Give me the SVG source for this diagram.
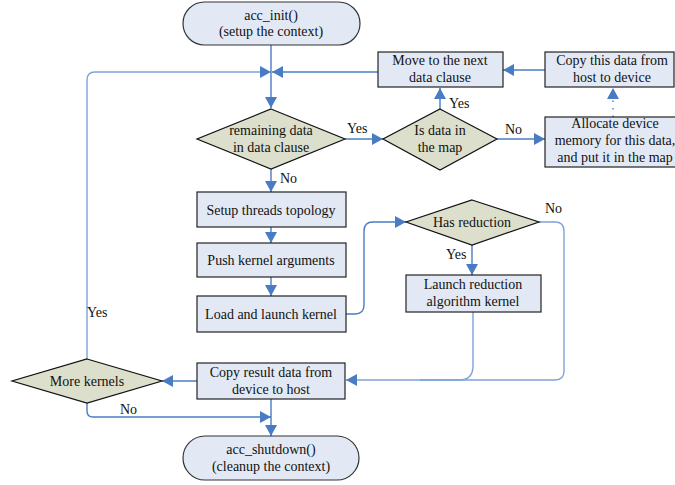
<svg xmlns="http://www.w3.org/2000/svg" width="675" height="485" viewBox="0 0 675 485">
<style>
text{font-size:14px;fill:#111;text-anchor:middle}
.box{fill:#e2e9f5;stroke:#222;stroke-width:1.2}
.term{fill:#e2e9f5;stroke:#333;stroke-width:1.2}
.dec{fill:#dcdfcb;stroke:#111;stroke-width:1.2}
.c{fill:none;stroke:#4a7cc3;stroke-width:1.4}
.cl{fill:none;stroke:#7ea3d8;stroke-width:1.4}
.lbl{text-anchor:start}
</style>
<defs>
<marker id="ah" markerUnits="userSpaceOnUse" markerWidth="12" markerHeight="12" refX="11" refY="6" orient="auto">
<path d="M0,0 L11,6 L0,12 z" fill="#4a7cc3"/>
</marker>
</defs>
<rect width="675" height="485" fill="#fff"/>
<g font-family="'Liberation Serif', 'Times New Roman', 'DejaVu Serif', serif">
<g id="connectors">
<path class="c" d="M271,45 V108" marker-end="url(#ah)"/>
<path class="cl" d="M87,359 V80 Q87,72 95,72 H271" marker-end="url(#ah)"/>
<path class="c" d="M378,72 H272" marker-end="url(#ah)"/>
<path class="c" d="M345,139 H383" marker-end="url(#ah)"/>
<path class="c" d="M440,109 V88" marker-end="url(#ah)"/>
<path class="c" d="M497,139 H545" marker-end="url(#ah)"/>
<path class="c" d="M613,117 V88" stroke-dasharray="1.5,6" marker-end="url(#ah)"/>
<path class="c" d="M545,70 H503" marker-end="url(#ah)"/>
<path class="c" d="M271,169 V192" marker-end="url(#ah)"/>
<path class="c" d="M271,227 V243" marker-end="url(#ah)"/>
<path class="c" d="M271,277 V296" marker-end="url(#ah)"/>
<path class="c" d="M346,314 H355 Q364,314 364,305 V231 Q364,222 373,222 H406" marker-end="url(#ah)"/>
<path class="c" d="M472,245 V275" marker-end="url(#ah)"/>
<path class="cl" d="M539,222 H555 Q564,222 564,231 V371 Q564,380 555,380 H346" marker-end="url(#ah)"/>
<path class="cl" d="M473,312 V366 Q473,380 459,380 H420"/>
<path class="c" d="M197,381 H162" marker-end="url(#ah)"/>
<path class="c" d="M271,399 V436" marker-end="url(#ah)"/>
<path class="c" d="M87,403 V411 Q87,417 93,417 H271" marker-end="url(#ah)"/>
<text class="lbl" x="347" y="133">Yes</text>
<text class="lbl" x="449" y="108">Yes</text>
<text class="lbl" x="505" y="134">No</text>
<text class="lbl" x="280" y="183">No</text>
<text class="lbl" x="545" y="213">No</text>
<text class="lbl" x="446" y="259">Yes</text>
<text class="lbl" x="87" y="317">Yes</text>
<text class="lbl" x="120" y="414">No</text>
</g>
<g id="acc_init">
<rect class="term" x="183" y="2" width="177" height="43" rx="21.5"/>
<text x="271" y="19.5">acc_init()</text>
<text x="271" y="36">(setup the context)</text>
</g>
<g id="move_next">
<rect class="box" x="378" y="52" width="125" height="35"/>
<text x="440" y="65">Move to the next</text>
<text x="440" y="81.5">data clause</text>
</g>
<g id="copy_host">
<rect class="box" x="545" y="52" width="129" height="35"/>
<text x="612" y="65">Copy this data from</text>
<text x="612" y="81.5">host to device</text>
</g>
<g id="remaining">
<path class="dec" d="M271,109 L345,139 L271,169 L197,139 z"/>
<text x="271" y="135">remaining data</text>
<text x="271" y="151.5">in data clause</text>
</g>
<g id="is_data">
<path class="dec" d="M440,109 L497,139 L440,170 L383,139 z"/>
<text x="440" y="135">Is data in</text>
<text x="440" y="151.5">the map</text>
</g>
<g id="allocate">
<rect class="box" x="545" y="117" width="140" height="50"/>
<text x="615" y="128">Allocate device</text>
<text x="615" y="145">memory for this data,</text>
<text x="615" y="162">and put it in the map</text>
</g>
<g id="setup_threads">
<rect class="box" x="197" y="192" width="149" height="35"/>
<text x="271" y="214.5">Setup threads topology</text>
</g>
<g id="push_args">
<rect class="box" x="197" y="243" width="149" height="34"/>
<text x="271" y="265">Push kernel arguments</text>
</g>
<g id="load_launch">
<rect class="box" x="197" y="296" width="149" height="36"/>
<text x="271" y="319">Load and launch kernel</text>
</g>
<g id="has_reduction">
<path class="dec" d="M472,200 L539,222 L472,245 L406,222 z"/>
<text x="472" y="227">Has reduction</text>
</g>
<g id="launch_reduction">
<rect class="box" x="406" y="275" width="135" height="37"/>
<text x="473" y="289">Launch reduction</text>
<text x="473" y="305.5">algorithm kernel</text>
</g>
<g id="copy_result">
<rect class="box" x="197" y="363" width="148" height="36"/>
<text x="271" y="377">Copy result data from</text>
<text x="271" y="393.5">device to host</text>
</g>
<g id="more_kernels">
<path class="dec" d="M87,359 L162,381 L87,403 L12,381 z"/>
<text x="87" y="386">More kernels</text>
</g>
<g id="acc_shutdown">
<rect class="term" x="183" y="436" width="176" height="44" rx="22"/>
<text x="271" y="454">acc_shutdown()</text>
<text x="271" y="470.5">(cleanup the context)</text>
</g>
</g>
</svg>
